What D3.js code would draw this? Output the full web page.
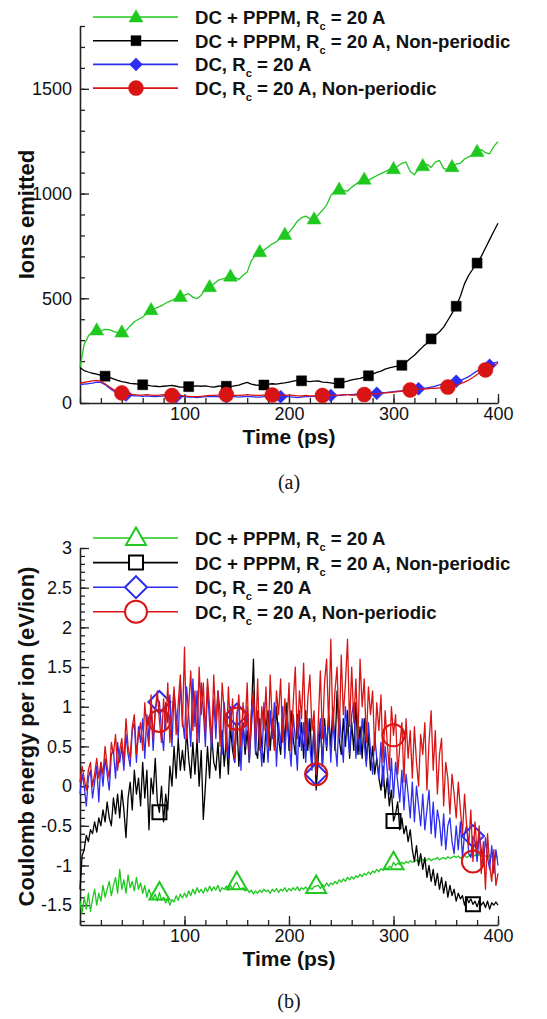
<!DOCTYPE html>
<html>
<head>
<meta charset="utf-8">
<script src="https://cdn.jsdelivr.net/npm/d3@7"></script>
<style>
body { margin: 0; background: #fff; }
text { font-family: "Liberation Sans", Arial, sans-serif; white-space: pre; }
</style>
</head>
<body>
<div id="chart"></div>
<script>
// legend labels: main part, subscript, rest
var legendMain = ["DC + PPPM, R", "DC + PPPM, R", "DC, R", "DC, R"];
var legendRest = [" = 20 A", " = 20 A, Non-periodic", " = 20 A", " = 20 A, Non-periodic"];
var seriesColors = ["#1ec81e", "#000000", "#2d2df2", "#d81414"];
var seriesShapes = ["triangle", "square", "diamond", "circle"];

// ---- panel (a): ions emitted, sampled every 4 ps ----
var stepA = 4;
var greenA = [170,280,320,340,348,345,352,350,342,336,
  338,345,368,388,400,410,428,445,452,460,
  470,482,490,500,508,515,522,505,498,515,
  545,555,568,585,592,598,605,600,590,610,
  625,680,705,722,730,745,760,770,790,804,
  815,840,868,885,892,880,878,898,920,945,
  990,1012,1020,1015,1012,1030,1045,1058,1068,1062,
  1075,1085,1095,1105,1115,1118,1130,1145,1150,1105,
  1090,1118,1132,1140,1125,1150,1158,1120,1112,1128,
  1140,1145,1165,1175,1185,1200,1210,1195,1190,1225,
  1248];
var blackA = [168,155,148,142,138,132,128,122,115,108,
  102,98,94,92,90,87,85,82,80,78,
  80,82,84,80,76,76,78,80,82,80,
  82,78,76,80,82,80,78,82,85,92,
  98,90,86,84,86,90,92,90,94,96,
  100,104,108,106,104,102,104,106,100,98,
  96,92,95,100,104,110,114,118,124,130,
  138,146,152,162,168,172,176,180,195,212,
  228,248,268,285,306,322,340,362,395,428,
  462,510,570,610,640,668,700,740,780,820,
  858];
var blueA = [88,90,92,95,100,98,88,72,58,48,
  42,38,36,34,34,32,34,32,30,32,
  34,32,30,30,32,30,28,28,26,28,
  30,30,32,30,28,30,32,30,28,30,
  32,30,28,28,30,32,30,28,30,32,
  30,28,26,28,30,30,32,34,36,38,
  36,34,36,38,40,40,42,40,42,44,
  46,46,48,50,52,54,56,58,60,62,
  64,68,70,72,76,80,86,92,96,100,
  104,108,116,126,140,152,162,170,180,190,
  196];
var redA = [95,98,102,106,108,104,92,78,64,54,
  48,44,42,40,38,38,40,38,36,38,
  40,38,36,38,36,34,32,30,30,32,
  34,36,36,38,38,40,38,36,36,38,
  40,38,36,36,38,40,38,36,36,38,
  38,36,34,34,36,34,34,34,36,38,
  38,36,38,40,40,38,38,40,40,42,
  44,44,46,48,50,52,54,56,60,62,
  64,66,66,68,70,70,72,74,76,80,
  84,92,100,110,122,136,148,158,168,178,
  190];
var markTimesA = [
  [14,41,69,96,122,142,172,196,222,247,273,301,327,354,381],
  [23,61,102,139,175,210,246,276,306,336,361,381],
  [42,92,140,190,239,282,323,358,390],
  [40,89,138,185,231,273,316,352,386]
];

// ---- panel (b): Coulomb energy per ion, sampled every 2 ps ----
var stepB = 2;
var greenB = [-1.45,-1.6,-1.4,-1.55,-1.35,-1.58,-1.42,-1.3,-1.5,-1.35,
  -1.45,-1.25,-1.4,-1.3,-1.2,-1.38,-1.25,-1.15,-1.35,-1.05,
  -1.3,-1.18,-1.35,-1.12,-1.28,-1.2,-1.32,-1.15,-1.3,-1.22,
  -1.35,-1.25,-1.4,-1.3,-1.38,-1.42,-1.36,-1.45,-1.34,-1.44,
  -1.4,-1.47,-1.42,-1.5,-1.43,-1.46,-1.38,-1.44,-1.36,-1.41,
  -1.35,-1.4,-1.32,-1.38,-1.3,-1.36,-1.28,-1.34,-1.3,-1.35,
  -1.28,-1.33,-1.26,-1.32,-1.27,-1.31,-1.25,-1.33,-1.28,-1.3,
  -1.26,-1.31,-1.25,-1.3,-1.24,-1.21,-1.27,-1.3,-1.28,-1.32,
  -1.3,-1.34,-1.31,-1.36,-1.32,-1.35,-1.31,-1.34,-1.3,-1.33,
  -1.31,-1.35,-1.3,-1.33,-1.29,-1.34,-1.3,-1.32,-1.28,-1.33,
  -1.29,-1.32,-1.28,-1.31,-1.27,-1.32,-1.28,-1.3,-1.27,-1.31,
  -1.28,-1.3,-1.27,-1.26,-1.25,-1.29,-1.24,-1.27,-1.22,-1.26,
  -1.22,-1.24,-1.2,-1.23,-1.18,-1.21,-1.17,-1.2,-1.15,-1.18,
  -1.14,-1.17,-1.13,-1.15,-1.11,-1.14,-1.1,-1.12,-1.08,-1.11,
  -1.07,-1.09,-1.05,-1.08,-1.04,-1.06,-1.02,-1.05,-1.01,-1.03,
  -0.96,-1.0,-0.97,-0.99,-0.96,-0.98,-0.95,-0.97,-0.94,-0.96,
  -0.95,-0.93,-0.96,-0.94,-0.92,-0.95,-0.93,-0.91,-0.94,-0.92,
  -0.92,-0.9,-0.93,-0.91,-0.9,-0.92,-0.89,-0.91,-0.9,-0.88,
  -0.9,-0.88,-0.91,-0.89,-0.87,-0.9,-0.88,-0.86,-0.89,-0.87,
  -0.88,-0.86,-0.89,-0.87,-0.88,-0.9,-0.87,-0.89,-0.88,-0.9,
  -0.89];
var blackB = [-1.3,-0.88,-0.8,-0.62,-0.7,-0.55,-0.6,-0.45,-0.58,-0.4,
  -0.5,-0.3,-0.45,-0.2,-0.4,-0.5,-0.15,-0.35,-0.1,-0.4,
  -0.05,-0.3,-0.65,-0.15,0.05,-0.3,0.2,-0.1,0.1,-0.25,
  0.3,-0.15,0.2,-0.55,0.1,-0.1,0.35,-0.2,-0.33,0.0,
  -0.45,-0.1,-0.3,0.25,0.0,0.5,0.1,0.6,0.2,0.45,
  0.2,0.7,0.35,0.1,0.55,0.15,0.6,0.0,0.45,-0.42,
  0.0,0.5,0.1,0.65,0.3,0.2,0.55,0.1,0.7,0.25,
  0.6,0.15,0.75,0.45,0.3,0.87,0.25,0.65,0.8,0.4,
  0.7,0.3,0.9,1.6,0.45,0.35,0.85,0.5,0.3,0.75,
  0.95,0.45,0.85,0.5,1.0,0.6,0.4,0.9,0.55,1.05,
  0.45,0.95,0.6,0.4,0.9,0.5,0.8,0.35,0.95,0.45,
  0.85,0.3,0.75,-0.05,0.35,0.8,0.25,0.85,0.45,0.9,
  0.5,1.0,0.45,1.2,0.6,0.4,0.85,0.5,0.95,0.35,
  0.8,0.45,1.05,0.4,0.75,0.35,0.85,0.3,0.65,0.2,
  0.5,0.15,0.35,0.1,-0.05,0.25,-0.15,0.1,-0.25,-0.05,
  -0.44,-0.35,-0.2,-0.55,-0.4,-0.6,-0.5,-0.7,-0.55,-0.8,
  -0.95,-0.75,-1.0,-0.85,-1.05,-0.9,-1.15,-1.0,-1.2,-1.05,
  -1.25,-1.1,-1.3,-1.15,-1.35,-1.2,-1.4,-1.25,-1.38,-1.3,
  -1.45,-1.35,-1.42,-1.38,-1.5,-1.4,-1.47,-1.42,-1.49,-1.45,
  -1.52,-1.44,-1.5,-1.46,-1.53,-1.45,-1.55,-1.47,-1.5,-1.46,
  -1.5];
var blueB = [-0.1,0.15,0.0,-0.25,0.1,0.2,-0.15,0.05,0.25,-0.2,
  0.3,0.0,0.35,0.15,-0.05,0.4,0.45,0.1,0.55,0.3,
  0.5,0.2,0.65,0.4,0.25,0.7,0.8,0.3,0.75,0.55,
  0.85,0.35,0.9,0.6,1.0,0.45,0.95,1.1,1.06,0.7,
  0.45,1.05,0.8,1.15,0.5,1.2,0.9,0.6,1.3,0.85,
  0.6,1.25,0.9,0.5,1.35,0.75,1.2,0.55,1.3,0.95,
  0.5,1.25,0.8,0.45,1.1,0.6,1.2,0.95,0.4,1.05,
  0.7,0.35,1.0,0.6,0.3,0.9,1.05,0.2,0.8,0.5,
  1.0,0.3,0.75,1.1,0.4,0.95,0.6,0.25,1.05,0.7,
  0.3,0.95,0.6,1.05,0.25,0.8,0.5,1.0,0.35,0.9,
  0.55,0.25,0.9,0.6,0.2,0.95,0.45,0.8,0.3,0.85,
  0.5,0.2,0.8,0.15,0.6,0.85,0.25,0.75,0.5,0.9,
  0.3,0.85,0.55,0.25,0.95,0.6,0.3,1.0,0.7,0.4,
  0.9,1.05,0.35,0.7,0.4,0.85,0.55,0.25,0.8,0.45,
  0.15,0.65,0.35,0.1,0.55,0.0,0.5,0.2,-0.1,0.35,
  -0.15,0.3,0.05,-0.2,0.2,-0.3,0.15,-0.1,-0.4,0.05,
  -0.45,0.0,-0.25,-0.5,-0.1,-0.55,-0.3,-0.05,-0.6,-0.2,
  -0.65,-0.3,-0.45,-0.75,-0.35,-0.8,-0.5,-0.4,-0.7,-0.85,
  -0.5,-0.8,-0.45,-0.9,-0.6,-0.5,-0.85,-0.9,-0.63,-0.7,
  -0.95,-0.6,-0.8,-1.0,-0.65,-0.9,-1.05,-0.75,-1.1,-0.8,
  -1.0];
var redB = [0.05,0.25,0.1,-0.05,0.2,0.3,0.0,0.15,0.35,0.1,
  0.3,0.15,0.5,0.25,0.1,0.55,0.4,0.65,0.2,0.45,
  0.6,0.3,0.85,0.5,0.35,0.75,0.9,0.4,0.65,0.8,
  0.45,1.05,0.7,0.5,1.15,0.6,0.95,1.2,0.82,0.55,
  1.1,0.7,1.3,0.55,0.9,1.25,0.65,1.05,1.4,0.75,
  1.75,0.6,1.0,1.45,0.7,1.2,0.55,1.5,0.9,1.3,
  0.65,1.35,1.0,0.55,1.4,0.8,1.2,0.5,1.3,0.95,
  0.45,1.25,0.7,1.1,0.35,0.85,1.15,0.5,1.05,0.75,
  1.3,0.4,0.95,1.2,0.6,1.35,0.45,1.0,0.7,1.25,
  0.5,1.4,0.8,0.45,1.2,0.9,1.35,0.55,1.1,0.7,
  1.3,0.45,1.05,1.5,0.6,1.2,0.85,1.55,0.5,1.1,
  1.4,0.7,0.95,0.15,0.8,1.45,0.6,1.3,1.6,0.75,
  1.85,0.7,1.2,1.5,0.6,1.65,0.9,1.3,1.85,0.75,
  1.5,0.8,1.35,0.6,1.6,1.0,1.35,0.55,1.25,0.9,
  1.2,0.45,1.05,0.7,1.15,0.3,0.95,0.55,0.2,1.0,
  0.64,0.9,0.15,0.5,0.8,0.05,0.85,0.35,0.7,0.1,
  0.75,0.3,0.0,0.65,0.4,0.8,-0.05,0.55,0.95,0.2,
  0.7,-0.1,0.4,0.6,-0.25,0.3,0.1,-0.35,0.15,-0.1,
  -0.4,0.05,-0.3,-0.6,-0.1,-0.5,-0.75,-0.3,-0.95,-0.45,
  -0.85,-0.5,-1.1,-0.7,-1.3,-0.6,-1.0,-1.2,-0.8,-1.25,
  -1.1];
var markTimesB = [
  [75,150,225,300],
  [75,300,375],
  [75,150,225,375],
  [75,150,225,300,375]
];

var W = 547, H = 1019;
var svg = d3.select("#chart").append("svg")
    .attr("width", W)
    .attr("height", H);
svg.append("rect").attr("width", W).attr("height", H).attr("fill", "#fff");

function markerPath(shape, s) {
    if (shape === "triangle") {
        return "M0," + (-1.05 * s) + "L" + s + "," + (0.7 * s) + "L" + (-s) + "," + (0.7 * s) + "Z";
    }
    if (shape === "square") {
        return "M" + (-s) + "," + (-s) + "H" + s + "V" + s + "H" + (-s) + "Z";
    }
    if (shape === "diamond") {
        return "M0," + (-s) + "L" + s + ",0L0," + s + "L" + (-s) + ",0Z";
    }
    return d3.arc()({innerRadius: 0, outerRadius: s, startAngle: 0, endAngle: 2 * Math.PI});
}

function drawPanel(cfg) {
    var x = d3.scaleLinear().domain([0, 400]).range([80, 498]);
    var y = d3.scaleLinear().domain(cfg.yDomain).range(cfg.yRange);
    var g = svg.append("g");

    // axes: minor then major, ticks pointing inward
    var minorX = g.append("g").attr("transform", "translate(0," + cfg.yRange[0] + ")")
        .call(d3.axisBottom(x).tickValues(d3.range(0, 401, 20)).tickSize(-5).tickSizeOuter(0).tickFormat(""));
    minorX.select(".domain").remove();
    g.append("g").attr("transform", "translate(0," + cfg.yRange[0] + ")")
        .call(d3.axisBottom(x).tickValues([100, 200, 300, 400]).tickSize(-9).tickSizeOuter(0).tickPadding(4));
    var minorY = g.append("g").attr("transform", "translate(80,0)")
        .call(d3.axisLeft(y).tickValues(cfg.minorY).tickSize(-5).tickSizeOuter(0).tickFormat(""));
    minorY.select(".domain").remove();
    g.append("g").attr("transform", "translate(80,0)")
        .call(d3.axisLeft(y).tickValues(cfg.majorY).tickSize(-9).tickSizeOuter(0).tickPadding(8)
            .tickFormat(cfg.fmt));
    g.selectAll(".domain").attr("stroke", "#222").attr("stroke-width", 1.6);
    g.selectAll(".tick line").attr("stroke", "#222").attr("stroke-width", 1.3);
    g.selectAll(".tick text").attr("font-size", 18).attr("fill", "#111")
        .style("font-family", "'Liberation Sans', Arial, sans-serif");

    // series
    var line = d3.line()
        .x(function (d, i) { return x(i * cfg.step); })
        .y(function (d) { return y(d); });
    cfg.series.forEach(function (vals, k) {
        g.append("path")
            .datum(vals)
            .attr("d", line)
            .attr("fill", "none")
            .attr("stroke", seriesColors[k])
            .attr("stroke-width", cfg.lineWidth)
            .attr("stroke-linejoin", "round");
        var marks = cfg.marks[k].map(function (t) {
            var idx = Math.round(t / cfg.step);
            return [idx * cfg.step, vals[idx]];
        });
        g.selectAll(null)
            .data(marks).enter()
            .append("path")
            .attr("transform", function (d) { return "translate(" + x(d[0]) + "," + y(d[1]) + ")"; })
            .attr("d", markerPath(seriesShapes[k], cfg.markSize[k]))
            .attr("fill", cfg.filled ? seriesColors[k] : "none")
            .attr("stroke", seriesColors[k])
            .attr("stroke-width", cfg.filled ? 0.5 : 2);
    });

    // legend
    legendMain.forEach(function (txt, k) {
        var ly = cfg.legendTop + k * cfg.legendGap;
        g.append("line")
            .attr("x1", 93).attr("x2", 178)
            .attr("y1", ly).attr("y2", ly)
            .attr("stroke", seriesColors[k])
            .attr("stroke-width", 1.6);
        g.append("path")
            .attr("transform", "translate(136," + ly + ")")
            .attr("d", markerPath(seriesShapes[k], cfg.markSize[k]))
            .attr("fill", cfg.filled ? seriesColors[k] : "#fff")
            .attr("stroke", seriesColors[k])
            .attr("stroke-width", cfg.filled ? 0.5 : 2);
        var t = g.append("text")
            .attr("x", 195).attr("y", ly + 7)
            .attr("font-size", 18.6).attr("font-weight", "bold")
            .attr("fill", "#111");
        t.append("tspan").text(txt);
        t.append("tspan").attr("font-size", 11).attr("dy", 6).text("c");
        t.append("tspan").attr("dy", -6).text(legendRest[k]);
    });

    // titles
    g.append("text")
        .attr("x", 289).attr("y", cfg.yRange[0] + 41)
        .attr("text-anchor", "middle")
        .attr("font-size", 21).attr("font-weight", "bold")
        .attr("fill", "#111")
        .text("Time (ps)");
    g.append("text")
        .attr("transform", "translate(34," + ((cfg.yRange[0] + cfg.yRange[1]) / 2) + ") rotate(-90)")
        .attr("text-anchor", "middle")
        .attr("font-size", 22).attr("font-weight", "bold")
        .attr("fill", "#111")
        .text(cfg.yTitle);
    g.append("text")
        .attr("x", 289).attr("y", cfg.captionY)
        .attr("text-anchor", "middle")
        .attr("font-size", 20)
        .style("font-family", "'Liberation Serif', 'DejaVu Serif', serif")
        .attr("fill", "#111")
        .text(cfg.caption);
}

drawPanel({
    yDomain: [0, 1800], yRange: [403, 26],
    majorY: [0, 500, 1000, 1500], minorY: d3.range(0, 1801, 100),
    fmt: d3.format("d"),
    step: stepA,
    series: [greenA, blackA, blueA, redA],
    marks: markTimesA,
    markSize: [7, 5, 6.5, 7.5],
    filled: true,
    lineWidth: 1.3,
    legendTop: 17, legendGap: 23.7,
    yTitle: "Ions emitted",
    caption: "(a)", captionY: 489
});

drawPanel({
    yDomain: [-1.75, 3], yRange: [925, 548],
    majorY: [-1.5, -1, -0.5, 0, 0.5, 1, 1.5, 2, 2.5, 3],
    minorY: d3.range(-17, 31, 1).map(function (v) { return v / 10; }),
    fmt: function (v) { return String(v); },
    step: stepB,
    series: [greenB, blackB, blueB, redB],
    marks: markTimesB,
    markSize: [10, 7, 11, 11],
    filled: false,
    lineWidth: 1.3,
    legendTop: 538, legendGap: 24.6,
    yTitle: "Coulomb energy per ion (eV/ion)",
    caption: "(b)", captionY: 1008
});
</script>
</body>
</html>
